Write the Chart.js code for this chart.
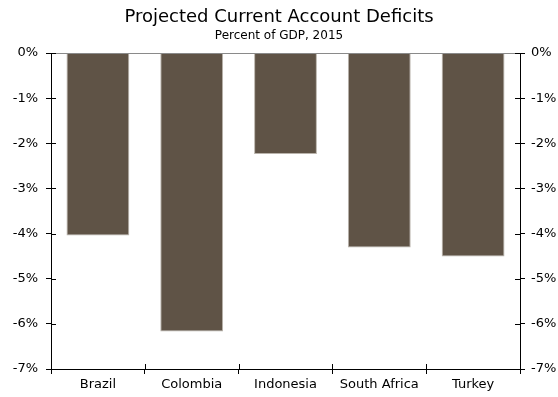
<!DOCTYPE html>
<html lang="en">
<head>
    <meta charset="UTF-8">
    <title>Projected Current Account Deficits</title>
    <script src="https://cdn.jsdelivr.net/npm/chart.js"></script>
    <style>
        body { margin: 0; background: white; }
        canvas { display: block; }
    </style>
</head>
<body>
    <canvas id="deficitChart" width="558" height="397"></canvas>

    <script>
        const categories = ['Brazil', 'Colombia', 'Indonesia', 'South Africa', 'Turkey'];
        const deficits = [-4.04, -6.17, -2.24, -4.31, -4.51];
        const yMin = -7;
        const yMax = 0;
        const yStep = 1;

        const fontFamily = "'DejaVu Sans', Verdana, sans-serif";

        // ticks that cross the axis line (Chart.js only draws the outer half)
        const crossTicks = {
            id: 'crossTicks',
            afterDraw(chart) {
                const ctx = chart.ctx;
                const area = chart.chartArea;
                const y = chart.scales.y;
                const x = chart.scales.x;
                ctx.save();
                ctx.lineWidth = 1;
                // thin grey top line at 0%
                ctx.beginPath();
                ctx.strokeStyle = '#8a8a8a';
                ctx.moveTo(area.left, Math.round(area.top) + 0.5);
                ctx.lineTo(area.right, Math.round(area.top) + 0.5);
                ctx.stroke();
                ctx.strokeStyle = '#000';
                ctx.beginPath();
                y.ticks.forEach(t => {
                    const py = Math.round(y.getPixelForValue(t.value)) + 0.5;
                    ctx.moveTo(area.left, py);
                    ctx.lineTo(area.left + 5, py);
                    ctx.moveTo(area.right - 5, py);
                    ctx.lineTo(area.right, py);
                });
                for (let i = 0; i <= categories.length; i++) {
                    const px = Math.round(x.getPixelForValue(i - 0.5)) + 0.5;
                    ctx.moveTo(px, area.bottom);
                    ctx.lineTo(px, area.bottom - 5);
                }
                ctx.stroke();
                ctx.restore();
            }
        };

        const tickGrid = {
            display: true,
            drawOnChartArea: false,
            drawTicks: true,
            tickLength: 5,
            color: '#000',
            lineWidth: 1
        };

        new Chart(document.getElementById('deficitChart').getContext('2d'), {
            type: 'bar',
            data: {
                labels: categories,
                datasets: [{
                    data: deficits,
                    backgroundColor: '#5f5346',
                    borderColor: '#b9b3ab',
                    borderWidth: 1,
                    borderSkipped: 'start',
                    categoryPercentage: 1,
                    barPercentage: 0.67
                }]
            },
            options: {
                responsive: false,
                animation: false,
                devicePixelRatio: 1,
                layout: { padding: 0 },
                plugins: {
                    legend: { display: false },
                    tooltip: { enabled: false },
                    title: {
                        display: true,
                        text: 'Projected Current Account Deficits',
                        color: '#000',
                        font: { family: fontFamily, size: 18, weight: 'normal', lineHeight: 1.2 },
                        padding: { top: 7, bottom: 0 }
                    },
                    subtitle: {
                        display: true,
                        text: 'Percent of GDP, 2015',
                        color: '#000',
                        font: { family: fontFamily, size: 12, weight: 'normal', lineHeight: 1.2 },
                        padding: { top: 0, bottom: 10 }
                    }
                },
                scales: {
                    x: {
                        offset: true,
                        grid: Object.assign({}, tickGrid, { offset: true }),
                        border: { display: true, color: '#000', width: 1 },
                        ticks: {
                            color: '#000',
                            font: { family: fontFamily, size: 13 },
                            padding: 3
                        },
                        afterFit(scale) { scale.height = 28; }
                    },
                    y: {
                        position: 'left',
                        min: yMin,
                        max: yMax,
                        grid: tickGrid,
                        border: { display: true, color: '#000', width: 1 },
                        ticks: {
                            stepSize: yStep,
                            color: '#000',
                            font: { family: fontFamily, size: 13 },
                            padding: 8,
                            callback: v => v + '%'
                        },
                        afterFit(scale) { scale.width = 51; }
                    },
                    y2: {
                        position: 'right',
                        min: yMin,
                        max: yMax,
                        grid: tickGrid,
                        border: { display: true, color: '#000', width: 1 },
                        ticks: {
                            stepSize: yStep,
                            color: '#000',
                            font: { family: fontFamily, size: 13 },
                            padding: 6,
                            callback: v => v + '%'
                        },
                        afterFit(scale) { scale.width = 38; }
                    }
                }
            },
            plugins: [crossTicks]
        });
    </script>
</body>
</html>
